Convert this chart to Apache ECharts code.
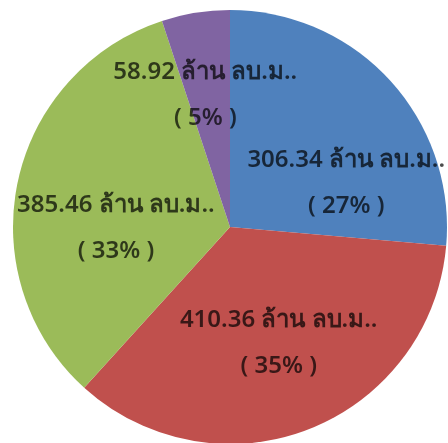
<!DOCTYPE html>
<html>
<head>
<meta charset="utf-8">
<script src="https://cdn.jsdelivr.net/npm/echarts@6/dist/echarts.min.js"></script>
<style>
html,body{margin:0;padding:0;background:#fff;}
#chart{width:448px;height:443px;}
</style>
</head>
<body>
<div id="chart"></div>
<script>
// Data
var categories = ['A', 'B', 'C', 'D'];
var values = [306.34, 410.36, 385.46, 58.92];
var percentLabels = ['27%', '35%', '33%', '5%'];
var unitText = 'ล้าน ลบ.ม..';
var colors = ['#4F81BD', '#C0504D', '#9BBB59', '#8064A2'];

// label nudges (layout only)
var labelShift = [[34, 31], [8, 12], [-5, 24], [-7, -22]];

var chart = echarts.init(document.getElementById('chart'), null, {renderer: 'canvas'});
var data = categories.map(function (c, i) {
  return {name: c, value: values[i], itemStyle: {color: colors[i]}};
});
chart.setOption({
  animation: false,
  series: [{
    type: 'pie',
    center: [230, 227],
    radius: [0, 217],
    startAngle: 90,
    clockwise: true,
    data: data,
    itemStyle: {borderWidth: 0},
    label: {
      show: true,
      position: 'inside',
      formatter: function (p) {
        return values[p.dataIndex].toFixed(2) + ' ' + unitText + '\n( ' + percentLabels[p.dataIndex] + ' )';
      },
      color: 'rgba(0,0,0,0.7)',
      fontSize: 24,
      fontWeight: 600,
      lineHeight: 46,
      fontFamily: '"Noto Sans", "Open Sans", sans-serif',
      align: 'center'
    },
    labelLine: {show: false},
    labelLayout: function (params) {
      var s = labelShift[params.dataIndex];
      return {dx: s[0], dy: s[1]};
    },
    emphasis: {disabled: true}
  }]
});
</script>
</body>
</html>
